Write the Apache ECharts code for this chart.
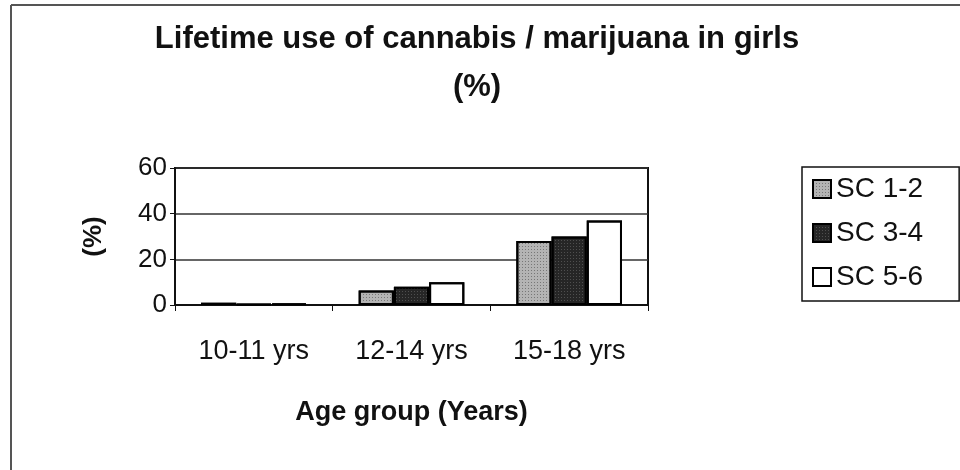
<!DOCTYPE html>
<html>
<head>
<meta charset="utf-8">
<script src="https://cdn.jsdelivr.net/npm/echarts@6/dist/echarts.min.js"></script>
<style>
  html, body { margin: 0; padding: 0; background: #fff; }
  #chart { width: 960px; height: 470px; }
</style>
</head>
<body>
<div id="chart"></div>
<script>
// Age groups on the category axis
const ageGroups = ['10-11 yrs', '12-14 yrs', '15-18 yrs'];
// Lifetime use (%) per school class group
const sc12 = [1.0, 6.3, 28];
const sc34 = [0.4, 8, 30];
const sc56 = [0.6, 10, 37];
// Value axis range
const yMin = 0, yMax = 60, yStep = 20;

const chart = echarts.init(document.getElementById('chart'), null, { renderer: 'canvas' });
const font = 'Liberation Sans, Arial, sans-serif';

// Fine speckle texture for the filled bars
function speckle(color) {
  return { symbol: 'rect', symbolSize: 1, dashArrayX: [1, 2], dashArrayY: [1, 2], rotation: 0, color: color };
}

function barSeries(name, data, fill, decal) {
  const style = { color: fill, borderColor: '#000', borderWidth: 2 };
  if (decal) style.decal = decal;
  return {
    name: name,
    type: 'bar',
    data: data,
    barGap: '0%',
    barCategoryGap: '33%',
    itemStyle: style
  };
}

chart.setOption({
  animation: false,
  backgroundColor: '#fff',
  aria: { enabled: true, decal: { show: true } },
  title: {
    text: 'Lifetime use of cannabis / marijuana in girls\n(%)',
    left: 472, top: 10, textAlign: 'center',
    textStyle: { fontFamily: font, fontWeight: 'bold', fontSize: 31, lineHeight: 48, color: '#111' }
  },
  legend: {
    orient: 'vertical',
    left: 802, top: 167,
    padding: [8, 36, 10, 10],
    itemWidth: 18, itemHeight: 18, itemGap: 16,
    borderColor: '#111', borderWidth: 1.5,
    icon: 'rect',
    textStyle: { fontFamily: font, fontSize: 28, color: '#111' },
    itemStyle: { borderColor: '#000', borderWidth: 2 }
  },
  grid: { left: 175, right: 312, top: 168, bottom: 165, show: true, borderColor: '#111', borderWidth: 2 },
  xAxis: {
    type: 'category',
    data: ageGroups,
    name: 'Age group (Years)',
    nameLocation: 'middle',
    nameGap: 94,
    nameTextStyle: { fontFamily: font, fontWeight: 'bold', fontSize: 27, color: '#111' },
    axisLine: { lineStyle: { color: '#111', width: 2 } },
    axisTick: { show: true, length: 6, lineStyle: { color: '#111' } },
    axisLabel: { fontFamily: font, fontSize: 27, color: '#111', margin: 33 }
  },
  yAxis: {
    type: 'value',
    min: yMin, max: yMax, interval: yStep,
    name: '(%)',
    nameLocation: 'middle',
    nameGap: 68,
    nameRotate: 90,
    nameTextStyle: { fontFamily: font, fontWeight: 'bold', fontSize: 26, color: '#111' },
    axisLine: { show: true, lineStyle: { color: '#111', width: 2 } },
    axisTick: { show: true, length: 5, lineStyle: { color: '#111' } },
    axisLabel: { fontFamily: font, fontSize: 26, color: '#111', margin: 8 },
    splitLine: { lineStyle: { color: '#333', width: 1.5 } }
  },
  graphic: [
    { type: 'line', shape: { x1: 11, y1: 5, x2: 11, y2: 470 }, style: { stroke: '#555', lineWidth: 2 } },
    { type: 'line', shape: { x1: 11, y1: 5, x2: 960, y2: 5 }, style: { stroke: '#555', lineWidth: 2 } }
  ],
  series: [
    barSeries('SC 1-2', sc12, '#b4b4b4', speckle('rgba(70,70,70,0.55)')),
    barSeries('SC 3-4', sc34, '#262626', speckle('rgba(120,120,120,0.5)')),
    barSeries('SC 5-6', sc56, '#ffffff', { symbol: 'none' })
  ]
});
</script>
</body>
</html>
